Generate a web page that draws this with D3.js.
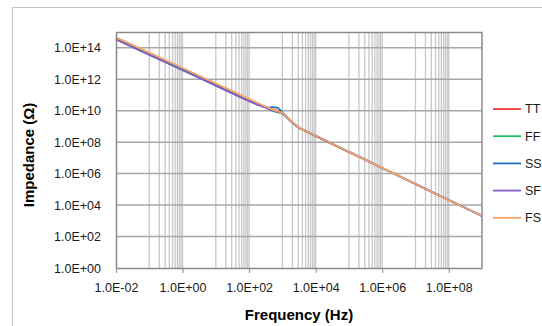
<!DOCTYPE html>
<html>
<head>
<meta charset="utf-8">
<script src="https://cdn.jsdelivr.net/npm/d3@7"></script>
<style>
  body { margin: 0; background: #fff; }
  svg { display: block; font-family: "Liberation Sans", Arial, sans-serif; }
</style>
</head>
<body>
<svg class="chart"></svg>
<script>
// frequency points (Hz)
var freq = [1e-2, 1e-1, 1, 10, 100, 200, 300, 400, 500, 700, 1e3, 1.5e3, 2e3, 3e3, 5e3, 1e4, 1e5, 1e6, 1e7, 1e8, 1e9];

// impedance (ohm) per corner
var tt = [3.98e14, 4.27e13, 4.47e12, 4.68e11, 4.90e10, 2.51e10, 1.78e10, 1.41e10, 1.20e10, 1.00e10, 7.0e9, 3.2e9, 1.78e9, 8.9e8, 5.2e8, 2.51e8, 2.40e7, 2.29e6, 2.19e5, 2.09e4, 2.00e3];
var ff = [4.17e14, 4.47e13, 4.68e12, 4.90e11, 5.13e10, 2.57e10, 1.74e10, 1.32e10, 1.00e10, 7.9e9, 6.3e9, 3.0e9, 1.74e9, 8.9e8, 5.0e8, 2.48e8, 2.40e7, 2.29e6, 2.19e5, 2.09e4, 2.00e3];
var ss = [3.47e14, 3.72e13, 3.89e12, 4.07e11, 4.27e10, 2.29e10, 1.70e10, 1.58e10, 1.66e10, 1.58e10, 7.6e9, 3.2e9, 1.78e9, 8.9e8, 5.2e8, 2.51e8, 2.40e7, 2.29e6, 2.19e5, 2.09e4, 2.00e3];
var sf = [3.31e14, 3.55e13, 3.72e12, 3.89e11, 4.07e10, 2.19e10, 1.62e10, 1.20e10, 1.05e10, 8.5e9, 6.9e9, 3.1e9, 1.76e9, 8.9e8, 5.2e8, 2.51e8, 2.40e7, 2.29e6, 2.19e5, 2.09e4, 2.00e3];
var fs = [4.57e14, 4.90e13, 5.13e12, 5.37e11, 5.62e10, 2.82e10, 1.91e10, 1.45e10, 1.20e10, 9.3e9, 7.0e9, 3.2e9, 1.80e9, 9.0e8, 5.3e8, 2.55e8, 2.42e7, 2.30e6, 2.20e5, 2.10e4, 2.00e3];

var seriesNames = ["TT", "FF", "SS", "SF", "FS"];
var seriesColors = ["#f0393b", "#1fc06a", "#1f6fbf", "#7f5fc4", "#f7a46a"];
var seriesValues = [tt, ff, ss, sf, fs];

// tick labels
var xTicks = [1e-2, 1, 1e2, 1e4, 1e6, 1e8];
var yTicks = [1, 1e2, 1e4, 1e6, 1e8, 1e10, 1e12, 1e14];

var W = 542, H = 326;
var margin = {top: 32, right: 60, bottom: 58, left: 116};
var width = 482 - margin.left;
var height = 268 - margin.top;

var svg = d3.select(".chart").attr("width", W).attr("height", H);

// outer chart border (cut off at right/bottom)
svg.append("rect")
	.attr("x", 12.5).attr("y", 7.5)
	.attr("width", 700).attr("height", 500)
	.attr("fill", "#fff")
	.attr("stroke", "#c4c4c4");

var chart = svg.append("g")
	.attr("transform", "translate(" + margin.left + "," + margin.top + ")");

var x = d3.scaleLog().domain([1e-2, 1e9]).range([0, width]);
var y = d3.scaleLog().domain([1, 1e15]).range([height, 0]);

// minor vertical grid: 1..9 x odd decades
var vGrid = [];
[-1, 1, 3, 5, 7].forEach(function(e){
	for (var m = 1; m <= 9; m++) vGrid.push(m * Math.pow(10, e));
});
xTicks.forEach(function(t){ if (t > 1e-2) vGrid.push(t); });

chart.append("g")
	.selectAll("line")
	.data(vGrid)
	.enter().append("line")
	.attr("x1", function(d){ return x(d); })
	.attr("x2", function(d){ return x(d); })
	.attr("y1", 0).attr("y2", height)
	.attr("stroke", "#c8c8c8")
	.attr("stroke-width", 1.3);

chart.append("g")
	.selectAll("line")
	.data(yTicks.filter(function(d){ return d > 1; }))
	.enter().append("line")
	.attr("x1", 0).attr("x2", width)
	.attr("y1", function(d){ return y(d); })
	.attr("y2", function(d){ return y(d); })
	.attr("stroke", "#a8a8a8")
	.attr("stroke-width", 1.5);

// plot border top / right
chart.append("path")
	.attr("d", "M0,0.5H" + width + "V" + height)
	.attr("fill", "none")
	.attr("stroke", "#8a8a8a")
	.attr("stroke-width", 1.5);

// lines
var line = d3.line()
	.x(function(d){ return x(d[0]); })
	.y(function(d){ return y(d[1]); })
	.curve(d3.curveMonotoneX);

seriesValues.forEach(function(vals, i){
	chart.append("path")
		.datum(freq.map(function(f, j){ return [f, vals[j]]; }))
		.attr("fill", "none")
		.attr("stroke", seriesColors[i])
		.attr("stroke-width", 1.8)
		.attr("d", line);
});

// axes
var fmt = function(d){
	var e = Math.round(Math.log10(d));
	var s = Math.abs(e) < 10 ? "0" + Math.abs(e) : "" + Math.abs(e);
	return "1.0E" + (e < 0 ? "-" : "+") + s;
};

var xAxis = d3.axisBottom(x).tickValues(xTicks).tickFormat(fmt).tickSize(5).tickSizeOuter(0);
var yAxis = d3.axisLeft(y).tickValues(yTicks).tickFormat(fmt).tickSize(0).tickSizeOuter(0);

var gx = chart.append("g")
	.attr("transform", "translate(0," + height + ")")
	.call(xAxis);
gx.select(".domain").attr("stroke", "#8a8a8a").attr("stroke-width", 1.5);
gx.selectAll(".tick line").attr("stroke", "#8a8a8a");
gx.selectAll("text")
	.attr("dy", "1.25em")
	.attr("fill", "#1a1a1a")
	.style("font-size", "12.5px");

var gy = chart.append("g").call(yAxis);
gy.select(".domain").attr("stroke", "#8a8a8a").attr("stroke-width", 1.5);
gy.selectAll("text")
	.attr("x", -15)
	.attr("fill", "#1a1a1a")
	.style("font-size", "12.5px");

// axis titles
chart.append("text")
	.attr("x", width / 2)
	.attr("y", height + 52)
	.attr("text-anchor", "middle")
	.style("font-size", "15px")
	.style("font-weight", "bold")
	.text("Frequency (Hz)");

chart.append("text")
	.attr("transform", "translate(" + (29 - margin.left + 5) + "," + (155 - margin.top) + ") rotate(-90)")
	.attr("text-anchor", "middle")
	.style("font-size", "15px")
	.style("font-weight", "bold")
	.text("Impedance (Ω)");

// legend
var legend = svg.append("g")
	.selectAll("g")
	.data(seriesNames)
	.enter().append("g")
	.attr("transform", function(d, i){ return "translate(493," + (109 + i * 27.2) + ")"; });

legend.append("line")
	.attr("x1", 0).attr("x2", 28)
	.attr("stroke", function(d, i){ return seriesColors[i]; })
	.attr("stroke-width", 1.8);

legend.append("text")
	.attr("x", 32)
	.attr("dy", "0.35em")
	.attr("fill", "#1a1a1a")
	.style("font-size", "12.5px")
	.text(function(d){ return d; });
</script>
</body>
</html>
